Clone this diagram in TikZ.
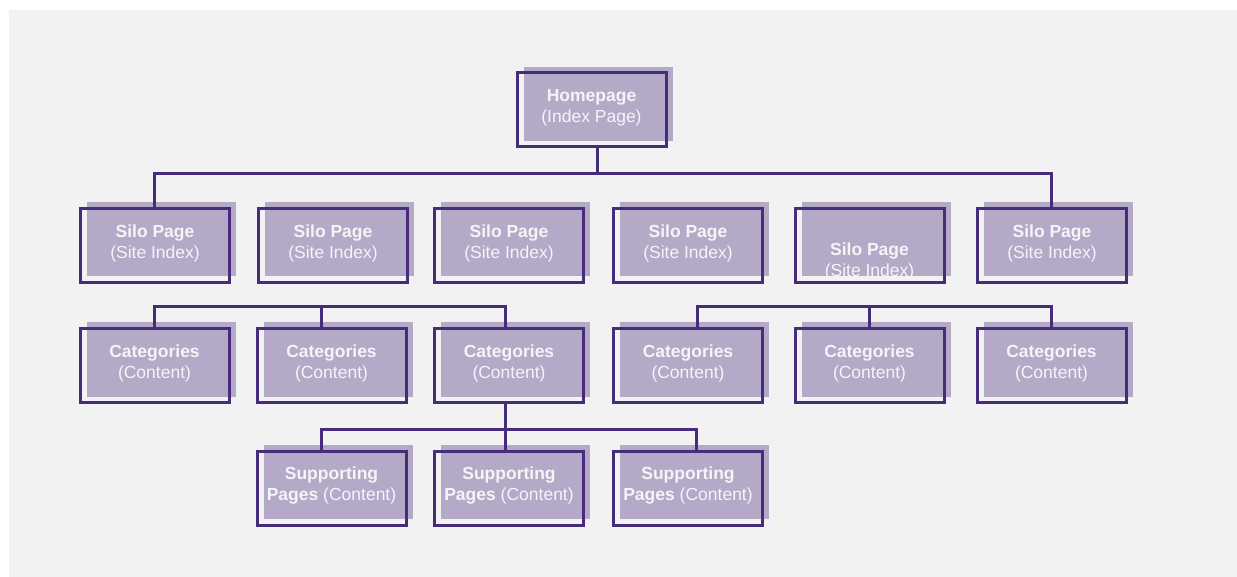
\documentclass[tikz,border=0pt]{standalone}
\usepackage{fontspec}
\setmainfont{Liberation Sans}
\usetikzlibrary{shadows}
\definecolor{boxline}{HTML}{472C7C}
\definecolor{boxfill}{HTML}{B4A9C6}
\definecolor{pagebg}{HTML}{F2F2F2}
\definecolor{boxtext}{HTML}{F6F4F9}
\tikzset{
  pagetext/.style={text=boxtext, align=center, inner sep=0pt, font=\fontsize{17.5}{21}\selectfont},
  pagebox/.style={draw=boxline, line width=3pt, minimum width=149pt, minimum height=74pt,
    inner sep=0pt, general shadow={fill=boxfill, shadow xshift=6.5pt, shadow yshift=6pt}},
  pagelabel/.style={label={[pagetext, yshift=2.5pt]center:#1}},
  link/.style={draw=boxline, line width=3pt},
}
\begin{document}
\begin{tikzpicture}[x=1pt, y=-1pt]
    \useasboundingbox (0,0) rectangle (1237,577);
    \fill[pagebg] (9,10) rectangle (1237,577);

    \node[pagebox, pagelabel={\textbf{Homepage}\\(Index Page)}] (home) at (591.5,110) {};

    \node[pagebox, pagelabel={\textbf{Silo Page}\\(Site Index)}] (s1) at (155,245.5) {};
    \node[pagebox, pagelabel={\textbf{Silo Page}\\(Site Index)}] (s2) at (333,245.5) {};
    \node[pagebox, pagelabel={\textbf{Silo Page}\\(Site Index)}] (s3) at (509,245.5) {};
    \node[pagebox, pagelabel={\textbf{Silo Page}\\(Site Index)}] (s4) at (688,245.5) {};
    \node[pagebox, label={[pagetext, yshift=-15.5pt]center:\textbf{Silo Page}\\(Site Index)}] (s5) at (869.5,245.5) {};
    \node[pagebox, pagelabel={\textbf{Silo Page}\\(Site Index)}] (s6) at (1052,245.5) {};

    \node[pagebox, pagelabel={\textbf{Categories}\\(Content)}] (c1) at (154.5,365.5) {};
    \node[pagebox, pagelabel={\textbf{Categories}\\(Content)}] (c2) at (331.5,365.5) {};
    \node[pagebox, pagelabel={\textbf{Categories}\\(Content)}] (c3) at (509,365.5) {};
    \node[pagebox, pagelabel={\textbf{Categories}\\(Content)}] (c4) at (688,365.5) {};
    \node[pagebox, pagelabel={\textbf{Categories}\\(Content)}] (c5) at (869.5,365.5) {};
    \node[pagebox, pagelabel={\textbf{Categories}\\(Content)}] (c6) at (1051.5,365.5) {};

    \node[pagebox, pagelabel={\textbf{Supporting}\\\textbf{Pages} (Content)}] (p1) at (331.5,488) {};
    \node[pagebox, pagelabel={\textbf{Supporting}\\\textbf{Pages} (Content)}] (p2) at (509,488) {};
    \node[pagebox, pagelabel={\textbf{Supporting}\\\textbf{Pages} (Content)}] (p3) at (688,488) {};

    \draw[link] ([xshift=5.5pt]home.south) -- ++(0,25.5) coordinate (hbar);
    \draw[link] ([xshift=-1pt]s1.north) |- (hbar) -| ([xshift=-1pt]s6.north);

    \draw[link] ([xshift=-0.5pt]c1.north) -- ++(0,-20) -| ([xshift=-4pt]c3.north);
    \draw[link] ([xshift=-10pt]c2.north) -- ++(0,-20);
    \draw[link] ([xshift=9pt]c4.north) -- ++(0,-20) -| ([xshift=-0.5pt]c6.north);
    \draw[link] (c5.north) -- ++(0,-20);

    \draw[link] ([xshift=-4pt]c3.south) -- ([xshift=-4pt]p2.north);
    \draw[link] ([xshift=-10.5pt]p1.north) -- ++(0,-20) -| ([xshift=8pt]p3.north);
\end{tikzpicture}
\end{document}
